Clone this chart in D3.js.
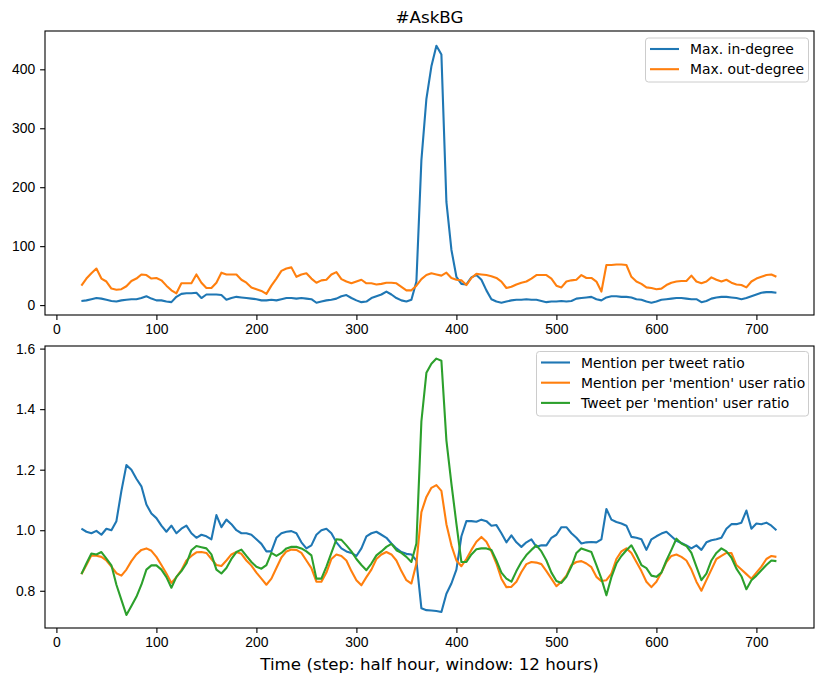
<!DOCTYPE html>
<html>
<head>
<meta charset="utf-8">
<script src="https://cdn.jsdelivr.net/npm/d3@7/dist/d3.min.js"></script>
<style>
  body { margin: 0; background: #fff; }
  svg { font-family: "DejaVu Sans", sans-serif; }
  .tick text { font-size: 13.9px; fill: #000; }
  .tick line { stroke: #000; stroke-width: 1.1; }
</style>
</head>
<body>
<svg id="canvas" width="830" height="685"></svg>
<script>
// time steps (half-hour), sampled every 5 steps
let steps = d3.range(25, 721, 5);

let maxInDegree = [
  7, 8, 10, 12, 11, 9, 7, 6, 8, 9, 10, 10, 12, 15, 11, 8, 8, 6, 5, 14,
  19, 20, 20, 21, 12, 18, 18, 18, 17, 9, 12, 14, 13, 12, 11, 10, 8, 8, 9, 8,
  10, 12, 12, 11, 12, 11, 10, 4, 6, 8, 9, 11, 15, 17, 12, 8, 5, 6, 12, 15,
  18, 23, 18, 12, 8, 6, 9, 40, 246, 350, 405, 440, 425, 175, 94, 48, 36, 35, 47, 51,
  43, 25, 10, 6, 4, 6, 8, 9, 9, 10, 9, 9, 7, 5, 6, 6, 7, 6, 7, 11,
  12, 13, 14, 10, 8, 13, 15, 15, 14, 14, 13, 10, 9, 6, 4, 6, 9, 10, 11, 12,
  12, 11, 10, 10, 5, 7, 11, 13, 14, 14, 13, 12, 10, 12, 15, 18, 21, 22, 22, 21
];
let maxOutDegree = [
  33, 45, 54, 62, 45, 40, 28, 26, 27, 32, 41, 45, 52, 51, 45, 46, 42, 33, 25, 20,
  37, 37, 37, 52, 38, 29, 29, 38, 55, 52, 52, 52, 43, 38, 30, 27, 24, 19, 33, 45,
  58, 62, 64, 48, 52, 54, 45, 38, 42, 43, 52, 56, 44, 40, 37, 40, 43, 37, 37, 35,
  36, 38, 38, 37, 31, 25, 25, 33, 44, 51, 54, 52, 50, 55, 46, 43, 42, 34, 46, 53,
  52, 51, 49, 46, 40, 29, 31, 35, 38, 40, 45, 51, 51, 51, 45, 33, 30, 40, 42, 43,
  51, 46, 46, 40, 23, 68, 68, 69, 69, 68, 48, 40, 36, 30, 29, 27, 28, 34, 38, 40,
  41, 41, 50, 40, 37, 40, 47, 43, 40, 43, 38, 35, 34, 30, 40, 45, 48, 51, 52, 48
];

let mentionPerTweet = [
  1.005, 0.995, 0.99, 0.998, 0.985, 1.005, 1.0, 1.03, 1.13, 1.215, 1.2, 1.17, 1.145, 1.085, 1.055, 1.04, 1.015, 0.995, 1.015, 0.99,
  1.005, 1.015, 0.99, 0.975, 0.985, 0.98, 0.97, 1.05, 1.01, 1.035, 1.02, 1.0, 0.99, 0.99, 0.985, 0.97, 0.955, 0.93, 0.93, 0.975,
  0.99, 0.995, 0.997, 0.99, 0.96, 0.94, 0.95, 0.985, 1.0, 1.005, 0.99, 0.96, 0.94, 0.93, 0.925, 0.915, 0.94, 0.98, 0.99, 0.995,
  0.985, 0.975, 0.956, 0.94, 0.928, 0.922, 0.92, 0.9, 0.742, 0.736, 0.735, 0.733, 0.73, 0.79, 0.824, 0.87, 0.98, 1.03, 1.03, 1.028,
  1.035, 1.03, 1.015, 1.017, 0.99, 0.96, 0.983, 0.96, 0.945, 0.96, 0.97, 0.945, 0.95, 0.95, 0.975, 0.985, 1.01, 1.01, 0.99, 0.975,
  0.956, 0.96, 0.961, 0.96, 0.97, 1.07, 1.035, 1.027, 1.022, 1.015, 0.978, 0.975, 0.97, 0.935, 0.97, 0.98, 0.989, 0.995, 0.98, 0.965,
  0.958, 0.95, 0.94, 0.95, 0.935, 0.96, 0.967, 0.97, 0.975, 1.005, 1.02, 1.02, 1.025, 1.065, 1.005, 1.022, 1.02, 1.025, 1.015, 1.0
];
let mentionPerUser = [
  0.855, 0.885, 0.917, 0.916, 0.912, 0.9, 0.88, 0.858, 0.85, 0.87, 0.898, 0.92, 0.935, 0.94, 0.932, 0.912, 0.885, 0.857, 0.826, 0.845,
  0.868, 0.9, 0.915, 0.927, 0.928, 0.925, 0.905, 0.885, 0.882, 0.9, 0.92, 0.928, 0.922, 0.9, 0.883, 0.86, 0.84, 0.82, 0.84, 0.875,
  0.91, 0.93, 0.936, 0.935, 0.925, 0.9, 0.875, 0.83, 0.83, 0.86, 0.905, 0.92, 0.915, 0.9, 0.865, 0.835, 0.818, 0.845, 0.87, 0.905,
  0.92, 0.928, 0.92, 0.9, 0.865, 0.835, 0.824, 0.89, 1.06, 1.11, 1.14, 1.149, 1.13, 1.02, 0.95, 0.9, 0.881, 0.905, 0.935, 0.962,
  0.978, 0.962, 0.93, 0.89, 0.84, 0.812, 0.813, 0.83, 0.862, 0.888, 0.895, 0.893, 0.888, 0.865, 0.84, 0.815, 0.83, 0.85, 0.885, 0.895,
  0.898, 0.89, 0.878, 0.846, 0.832, 0.835, 0.857, 0.905, 0.93, 0.94, 0.925, 0.895, 0.865, 0.83, 0.812, 0.83, 0.86, 0.895, 0.915, 0.92,
  0.912, 0.9, 0.87, 0.83, 0.8, 0.835, 0.87, 0.905, 0.915, 0.925, 0.925, 0.885, 0.87, 0.855, 0.84, 0.86, 0.88, 0.905, 0.915, 0.912
];
let tweetPerUser = [
  0.855, 0.89, 0.923, 0.92, 0.928, 0.906, 0.884, 0.82, 0.77, 0.72, 0.75, 0.78, 0.82, 0.87, 0.884, 0.884, 0.87, 0.845, 0.81, 0.846,
  0.865, 0.89, 0.934, 0.948, 0.944, 0.94, 0.92, 0.87, 0.857, 0.875, 0.905, 0.928, 0.936, 0.915, 0.895, 0.879, 0.873, 0.885, 0.925, 0.915,
  0.925, 0.94, 0.945, 0.945, 0.94, 0.93, 0.917, 0.84, 0.84, 0.88, 0.925, 0.97, 0.968, 0.95, 0.93, 0.905, 0.885, 0.868, 0.89, 0.917,
  0.93, 0.945, 0.955, 0.934, 0.925, 0.912, 0.895, 0.956, 1.36, 1.52, 1.55, 1.567, 1.56, 1.297, 1.154, 1.022, 0.895, 0.895, 0.92, 0.937,
  0.94, 0.94, 0.935, 0.9, 0.86, 0.84, 0.83, 0.865, 0.895, 0.918, 0.935, 0.95, 0.93, 0.9, 0.86, 0.832, 0.826, 0.846, 0.88, 0.925,
  0.94, 0.934, 0.928, 0.885, 0.84, 0.785, 0.845, 0.89, 0.915, 0.934, 0.95, 0.92, 0.885, 0.875, 0.85, 0.846, 0.86, 0.9, 0.935, 0.972,
  0.956, 0.948, 0.925, 0.88, 0.835, 0.857, 0.9, 0.925, 0.94, 0.93, 0.91, 0.873, 0.848, 0.805, 0.835, 0.85, 0.868, 0.885, 0.9, 0.898
];

let xTicks = [0, 100, 200, 300, 400, 500, 600, 700];
let topYTicks = [0, 100, 200, 300, 400];
let bottomYTicks = [0.8, 1.0, 1.2, 1.4, 1.6];

let topNames = ["Max. in-degree", "Max. out-degree"];
let bottomNames = ["Mention per tweet ratio", "Mention per 'mention' user ratio", "Tweet per 'mention' user ratio"];
let colors = ["#1f77b4", "#ff7f0e", "#2ca02c"];

let canvas = d3.select("#canvas");
let left = 45, right = 814;

function drawPanel(top, bottom, yDomain, yTicks, yFormat, seriesList, names, legend){
    let x = d3.scaleLinear().domain([-11.4, 757.6]).range([left, right]);
    let y = d3.scaleLinear().domain(yDomain).range([bottom, top]);
    let g = canvas.append("g");

    g.append("g")
        .attr("transform", "translate(0," + bottom + ")")
        .call(d3.axisBottom(x).tickValues(xTicks).tickSize(4.9).tickPadding(4.2).tickSizeOuter(0))
        .call(a => a.select(".domain").remove());
    g.append("g")
        .attr("transform", "translate(" + left + ",0)")
        .call(d3.axisLeft(y).tickValues(yTicks).tickFormat(yFormat).tickSize(4.9).tickPadding(4.9).tickSizeOuter(0))
        .call(a => a.select(".domain").remove());

    let line = d3.line()
        .x((d, i) => x(steps[i]))
        .y(d => y(d));
    seriesList.forEach((s, i) => {
        g.append("path")
            .attr("d", line(s))
            .attr("fill", "none")
            .attr("stroke", colors[i])
            .attr("stroke-width", 2.1)
            .attr("stroke-linejoin", "round");
    });

    g.append("rect")
        .attr("x", left).attr("y", top)
        .attr("width", right - left).attr("height", bottom - top)
        .attr("fill", "none").attr("stroke", "#000").attr("stroke-width", 1.1);

    // legend
    let lg = g.append("g");
    lg.append("rect")
        .attr("x", legend.x).attr("y", legend.y)
        .attr("width", legend.w).attr("height", legend.h)
        .attr("rx", 3)
        .attr("fill", "#fff").attr("fill-opacity", 0.8)
        .attr("stroke", "#ccc").attr("stroke-width", 1);
    names.forEach((n, i) => {
        let ly = legend.y + 11 + i * 20.2;
        lg.append("line")
            .attr("x1", legend.x + 4.5).attr("x2", legend.x + 33.5)
            .attr("y1", ly).attr("y2", ly)
            .attr("stroke", colors[i]).attr("stroke-width", 2.1);
        lg.append("text")
            .attr("x", legend.x + 44.5).attr("y", ly + 5)
            .attr("font-size", "13.9px")
            .text(n);
    });
}

drawPanel(31, 315, [-16.8, 465], topYTicks, d3.format("d"),
    [maxInDegree, maxOutDegree], topNames, {x: 645.5, y: 38, w: 163, h: 44});
drawPanel(346, 628, [0.677, 1.6086], bottomYTicks, d3.format(".1f"),
    [mentionPerTweet, mentionPerUser, tweetPerUser], bottomNames, {x: 536.5, y: 351.5, w: 272, h: 64.5});

canvas.append("text")
    .attr("x", (left + right) / 2).attr("y", 22.5)
    .attr("text-anchor", "middle")
    .attr("font-size", "16.7px")
    .text("#AskBG");

canvas.append("text")
    .attr("x", (left + right) / 2).attr("y", 670)
    .attr("text-anchor", "middle")
    .attr("font-size", "16.7px")
    .text("Time (step: half hour, window: 12 hours)");
</script>
</body>
</html>
